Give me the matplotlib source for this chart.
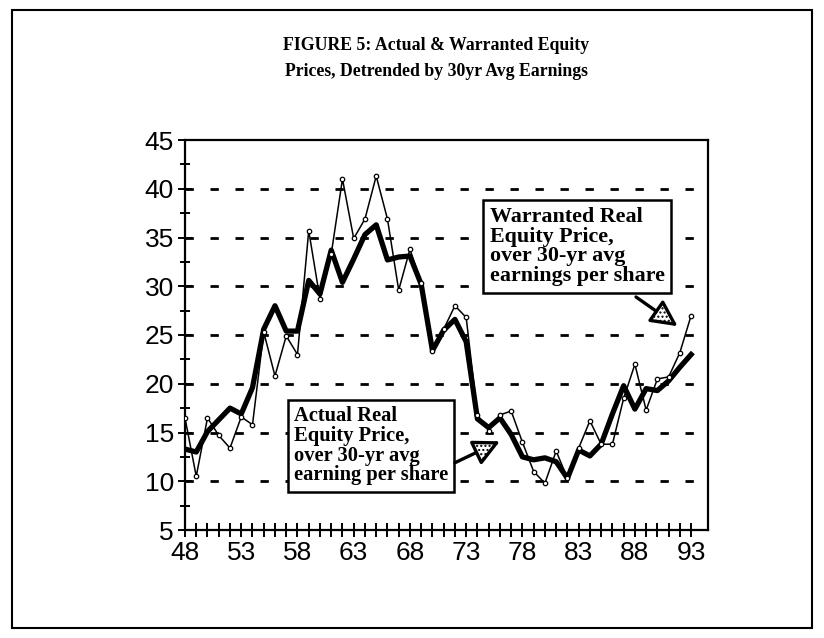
import matplotlib
matplotlib.use('Agg')
import matplotlib.pyplot as plt
from matplotlib.patches import Rectangle

# ---- data ----
years = list(range(1948, 1994))
warranted = [16.5, 10.5, 16.5, 14.7, 13.4, 16.6, 15.8, 25.3, 20.8, 24.9,
             23.0, 35.7, 28.7, 33.3, 41.0, 34.9, 36.9, 41.3, 36.9, 29.6,
             33.8, 30.3, 23.4, 25.6, 28.0, 26.8, 16.8, 15.2, 16.8, 17.2,
             14.0, 11.0, 9.8, 13.1, 10.3, 13.4, 16.2, 13.8, 13.8, 18.5,
             22.0, 17.3, 20.5, 20.7, 23.2, 27.0]
actual = [13.3, 13.0, 15.1, 16.3, 17.5, 16.9, 19.6, 25.6, 28.0, 25.4,
          25.4, 30.6, 29.2, 33.7, 30.4, 32.8, 35.3, 36.3, 32.7, 33.0,
          33.1, 30.2, 23.4, 25.5, 26.6, 24.3, 16.4, 15.5, 16.5, 14.8,
          12.5, 12.2, 12.4, 12.0, 10.3, 13.2, 12.6, 13.8, 16.9, 19.8,
          17.4, 19.5, 19.3, 20.3, 21.7, 23.0]
y_ticks = [5, 10, 15, 20, 25, 30, 35, 40, 45]
x_label_years = [1948, 1953, 1958, 1963, 1968, 1973, 1978, 1983, 1988, 1993]
x_labels = ['48', '53', '58', '63', '68', '73', '78', '83', '88', '93']

title1 = "FIGURE 5: Actual & Warranted Equity"
title2 = "Prices, Detrended by 30yr Avg Earnings"
actual_note = "Actual Real\nEquity Price,\nover 30-yr avg\nearning per share"
warranted_note = "Warranted Real\nEquity Price,\nover 30-yr avg\nearnings per share"

W, H = 824, 638
fig = plt.figure(figsize=(W / 100, H / 100), dpi=100)
fig.patch.set_facecolor('white')

# outer frame
fig.add_artist(Rectangle((12 / W, 10 / H), 800 / W, 618 / H, transform=fig.transFigure,
                         fill=False, lw=1.5, ec='black'))

serif = 'Liberation Serif'
sans = 'Liberation Sans'

fig.text(436 / W, 1 - 45 / H, title1, ha='center', va='center', fontsize=12.8,
         fontweight='bold', family=serif)
fig.text(436 / W, 1 - 71 / H, title2, ha='center', va='center', fontsize=12.8,
         fontweight='bold', family=serif)

ax = fig.add_axes([185 / W, 1 - 530 / H, (708 - 185) / W, (530 - 140) / H])
ax.set_xlim(1948, 1994.5)
ax.set_ylim(5, 45)

# grid
for v in y_ticks[1:-1]:
    ax.axhline(v, color='black', lw=2.0, ls=(0, (3, 6)), zorder=0)

ax.plot(years, actual, color='black', lw=3.8, solid_joinstyle='round', zorder=3)
ax.plot(years, warranted, color='black', lw=1.1, marker='o', ms=3.2,
        mfc='white', mec='black', mew=0.9, zorder=4)

# axes styling
for s in ax.spines.values():
    s.set_linewidth(1.6)
ax.set_yticks(y_ticks)
ax.set_yticks([v + 2.5 for v in y_ticks[:-1]], minor=True)
ax.set_xticks(years)
lab = [x_labels[x_label_years.index(y)] if y in x_label_years else '' for y in years]
ax.set_xticklabels(lab)
ax.tick_params(axis='both', which='major', direction='inout', length=10, width=1.4,
               labelsize=19, pad=3)
ax.tick_params(axis='y', which='minor', direction='inout', length=7, width=1.4)
for t in ax.get_xticklabels() + ax.get_yticklabels():
    t.set_family(sans)

# annotations
box = dict(boxstyle='square,pad=0.3', fc='white', ec='black', lw=1.8)
ax.text(0.208, 0.317, actual_note, transform=ax.transAxes, ha='left', va='top',
        fontsize=14.8, fontweight='bold', family=serif, linespacing=0.98, bbox=box, zorder=6)
ax.text(0.583, 0.828, warranted_note, transform=ax.transAxes, ha='left', va='top',
        fontsize=15.8, fontweight='bold', family=serif, linespacing=0.98, bbox=box, zorder=6)

arrow = dict(arrowstyle='-|>,head_length=1.6,head_width=0.8', lw=2.4, color='black',
             fc='white', hatch='....', shrinkA=0, shrinkB=0)
ax.annotate('', xy=(1976.0, 14.1), xytext=(1972.0, 11.9), arrowprops=arrow, zorder=7)
ax.annotate('', xy=(1991.8, 25.9), xytext=(1988.1, 28.9), arrowprops=arrow, zorder=7)

fig.savefig('out.png', dpi=100)
